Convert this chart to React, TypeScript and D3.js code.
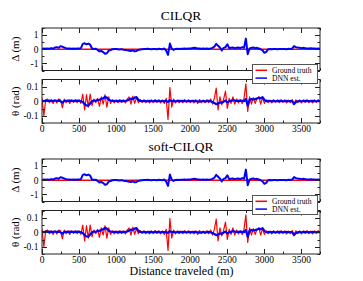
import React from "react";
import * as d3 from "d3";

// sample spacing of the series along the route (m)
const STEP_M = 25;

const titles = ["CILQR", "soft-CILQR"];
const legendLabels = ["Ground truth", "DNN est."];
const xTickLabels = [0, 500, 1000, 1500, 2000, 2500, 3000, 3500];
const deltaTickLabels = [-1, 0, 1];
const thetaTickLabels = [-0.1, 0, 0.1];

// Ground truth lateral offset Δ (m): flat along the route
const gtDeltaX = [0, 3750];
const gtDeltaY = [0, 0];

// DNN estimated Δ (m), every 25 m
const dnnDelta = [
  0.02, 0.05, 0.03, 0.06, 0.04, 0.08, 0.05, 0.12, 0.15, 0.1,
  0.22, 0.18, 0.12, 0.08, 0.06, 0.05, 0.03, 0.05, 0.04, 0.06,
  0.05, 0.08, 0.38, 0.42, 0.35, 0.4, 0.32, 0.05, 0.02, 0.04,
  -0.05, -0.15, -0.12, -0.2, -0.32, -0.28, -0.1, -0.05, 0.0, 0.02,
  0.02, 0.0, -0.02, 0.01, -0.03, -0.05, -0.08, -0.1, -0.12, -0.08,
  -0.15, -0.12, -0.05, -0.02, 0.0, 0.02, 0.01, 0.03, 0.02, 0.0,
  0.01, 0.02, 0.0, 0.03, 0.02, 0.0, 0.05, -0.1, -0.4, 0.4,
  0.05, -0.05, 0.02, 0.03, 0.02, 0.04, 0.03, 0.05, 0.04, 0.06,
  0.05, 0.08, 0.1, 0.09, 0.06, 0.05, 0.04, 0.05, 0.03, 0.05,
  0.04, 0.06, 0.1, 0.18, 0.38, 0.25, 0.12, -0.08, 0.1, 0.15,
  0.35, 0.08, 0.1, 0.12, 0.08, 0.1, 0.12, 0.08, 0.15, 0.1,
  0.75, -0.35, 0.05, 0.1, 0.12, 0.08, 0.1, 0.05, 0.0, -0.08,
  -0.25, -0.18, 0.0, 0.02, 0.0, 0.01, 0.02, 0.0, 0.01, 0.02,
  0.01, 0.02, 0.0, 0.03, 0.02, 0.05, 0.22, 0.15, 0.12, 0.1,
  0.08, 0.1, 0.08, 0.06, 0.05, 0.07, 0.05, 0.06, 0.04, 0.05,
  0.03,
];

// Ground truth heading error θ (rad), every 25 m
const gtTheta = [
  0.025, -0.1, 0.01, 0.015, -0.01, 0.012, -0.015, 0.01, -0.012, 0.015,
  0.01, -0.045, 0.015, -0.01, 0.012, -0.015, 0.01, -0.008, 0.012, -0.01,
  0.01, -0.015, 0.05, -0.06, 0.045, -0.04, 0.05, -0.03, 0.015, -0.01,
  0.02, -0.035, 0.03, -0.02, 0.045, -0.04, 0.03, -0.015, 0.01, -0.012,
  0.01, -0.01, 0.012, -0.008, 0.01, -0.012, 0.015, 0.03, -0.02, 0.035,
  -0.015, 0.025, -0.01, 0.012, -0.008, 0.01, -0.01, 0.008, -0.012, 0.01,
  -0.01, 0.012, -0.008, 0.01, -0.012, 0.008, -0.015, 0.02, -0.125, 0.095,
  -0.04, 0.015, -0.012, 0.01, -0.01, 0.008, -0.01, 0.012, -0.008, 0.01,
  -0.01, 0.008, -0.012, 0.01, -0.015, 0.012, -0.01, 0.008, -0.01, 0.012,
  -0.01, 0.015, -0.02, 0.02, 0.09, -0.06, 0.03, -0.025, 0.015, 0.07,
  -0.05, 0.02, -0.015, 0.03, -0.02, 0.015, -0.012, 0.01, -0.015, 0.02,
  0.12, -0.07, 0.03, -0.02, 0.025, -0.015, 0.02, 0.03, -0.02, 0.025,
  -0.015, 0.01, -0.01, 0.008, -0.012, 0.01, -0.008, 0.01, -0.01, 0.012,
  -0.008, 0.01, -0.012, 0.008, -0.01, 0.012, -0.015, 0.01, -0.01, 0.008,
  -0.012, 0.01, -0.008, 0.012, -0.01, 0.008, -0.012, 0.01, -0.008, 0.01,
  -0.005,
];

// DNN estimated θ (rad), every 25 m
const dnnTheta = [
  0.005, 0.0, 0.005, 0.002, 0.004, 0.0, 0.003, 0.005, 0.002, 0.004,
  0.0, -0.01, 0.002, 0.003, 0.0, 0.004, 0.002, 0.003, 0.001, 0.004,
  0.002, 0.0, -0.005, -0.02, -0.028, -0.03, -0.015, 0.0, 0.005, 0.003,
  0.008, 0.01, 0.015, 0.02, 0.03, 0.025, 0.01, 0.005, 0.003, 0.002,
  0.0, 0.002, 0.0, 0.003, 0.001, 0.002, 0.005, 0.012, 0.018, 0.015,
  0.025, 0.028, 0.01, 0.002, 0.0, 0.002, 0.001, 0.0, 0.002, 0.001,
  0.0, 0.002, 0.001, 0.003, 0.0, 0.002, 0.0, 0.003, -0.005, 0.008,
  0.0, 0.002, 0.0, 0.001, 0.003, 0.0, 0.002, 0.001, 0.0, 0.002,
  0.001, 0.0, 0.002, 0.001, 0.0, -0.002, 0.0, 0.001, -0.001, 0.0,
  0.002, 0.0, -0.005, -0.012, -0.02, -0.015, -0.008, -0.01, -0.003, 0.005,
  -0.008, 0.0, 0.002, 0.008, 0.005, 0.003, 0.002, 0.004, 0.002, 0.0,
  0.015, -0.03, 0.01, 0.015, 0.012, 0.015, 0.018, 0.025, 0.02, 0.028,
  0.01, 0.0, 0.002, 0.0, 0.001, 0.002, 0.0, 0.001, 0.002, 0.0,
  0.001, 0.0, 0.002, 0.0, 0.001, 0.0, -0.02, -0.005, 0.0, 0.002,
  0.0, 0.001, 0.002, 0.0, 0.001, 0.0, 0.002, 0.001, 0.0, 0.002,
  0.0,
];

const W = 363;
const H = 281;
const FONT = "'Liberation Serif', 'Times New Roman', serif";
const RED = "#ff0000";
const BLUE = "#0000ff";
const AXIS = "#222";

const x = d3.scaleLinear().domain([0, 3750]).range([42, 320]);
const xMinor = d3.range(0, 3751, 250);

type PanelProps = {
  id: string;
  top: number;
  bottom: number;
  domain: [number, number];
  major: number[];
  minorStep: number;
  fmt: (v: number) => string;
  label: string;
  showX: boolean;
  gt: [number, number][];
  dnn: [number, number][];
  redWidth: number;
  blueWidth: number;
};

function Panel(p: PanelProps) {
  const y = d3.scaleLinear().domain(p.domain).range([p.bottom, p.top]);
  const line = d3
    .line<[number, number]>()
    .x((d) => x(d[0]))
    .y((d) => y(d[1]));
  const [x0, x1] = x.range();
  const yMinor = d3.range(p.domain[0], p.domain[1] + 1e-9, p.minorStep);
  const isMajor = (v: number) => p.major.some((m) => Math.abs(m - v) < 1e-9);
  return (
    <g>
      <defs>
        <clipPath id={p.id}>
          <rect x={x0} y={p.top} width={x1 - x0} height={p.bottom - p.top} />
        </clipPath>
      </defs>
      <rect x={x0} y={p.top} width={x1 - x0} height={p.bottom - p.top} fill="white" />
      <g clipPath={`url(#${p.id})`}>
        <path d={line(p.gt) || ""} fill="none" stroke={RED} strokeWidth={p.redWidth} strokeLinejoin="round" />
        <path d={line(p.dnn) || ""} fill="none" stroke={BLUE} strokeWidth={p.blueWidth} strokeLinejoin="round" />
      </g>
      {xMinor.map((v) => {
        const len = v % 500 === 0 ? 5 : 2.5;
        const px = Math.round(x(v)) + 0.5;
        return (
          <g key={"xt" + v}>
            <line x1={px} x2={px} y1={p.bottom} y2={p.bottom - len} stroke={AXIS} />
            <line x1={px} x2={px} y1={p.top} y2={p.top + len} stroke={AXIS} />
          </g>
        );
      })}
      {yMinor.map((v) => {
        const len = isMajor(v) ? 5 : 2.5;
        const py = Math.round(y(v)) + 0.5;
        return (
          <g key={"yt" + v}>
            <line x1={x0} x2={x0 + len} y1={py} y2={py} stroke={AXIS} />
            <line x1={x1} x2={x1 - len} y1={py} y2={py} stroke={AXIS} />
          </g>
        );
      })}
      <rect x={x0} y={p.top} width={x1 - x0} height={p.bottom - p.top} fill="none" stroke={AXIS} strokeWidth={1} />
      {p.major.map((v) => (
        <text key={"yl" + v} x={38.5} y={y(v) + 3.3} textAnchor="end" fontSize={9.5} fontFamily={FONT} fill="#000">
          {p.fmt(v)}
        </text>
      ))}
      {p.showX &&
        xTickLabels.map((v) => (
          <text key={"xl" + v} x={x(v)} y={p.bottom + 9} textAnchor="middle" fontSize={9.5} fontFamily={FONT} fill="#000">
            {v}
          </text>
        ))}
      <text
        transform={`translate(18.5, ${(p.top + p.bottom) / 2}) rotate(-90)`}
        textAnchor="middle"
        fontSize={11}
        fontFamily={FONT}
        fill="#000"
      >
        {p.label}
      </text>
    </g>
  );
}

function Figure({ idx, dy }: { idx: number; dy: number }) {
  const dist = (i: number) => i * STEP_M;
  const gtD: [number, number][] = gtDeltaX.map((v, i) => [v, gtDeltaY[i]]);
  const dnnD: [number, number][] = dnnDelta.map((v, i) => [dist(i), v]);
  const gtT: [number, number][] = gtTheta.map((v, i) => [dist(i), v]);
  const dnnT: [number, number][] = dnnTheta.map((v, i) => [dist(i), v]);
  const lx = 252.5;
  const ly = 64.5 + dy;
  return (
    <g>
      <text x={181} y={20 + dy} textAnchor="middle" fontSize={13.5} fontFamily={FONT} fill="#000">
        {titles[idx]}
      </text>
      <Panel
        id={"c" + idx + "a"}
        top={28 + dy}
        bottom={70.5 + dy}
        domain={[-1.5, 1.5]}
        major={deltaTickLabels}
        minorStep={0.5}
        fmt={(v) => String(v)}
        label="Δ (m)"
        showX={false}
        gt={gtD}
        dnn={dnnD}
        redWidth={1.5}
        blueWidth={2}
      />
      <Panel
        id={"c" + idx + "b"}
        top={79.5 + dy}
        bottom={123 + dy}
        domain={[-0.15, 0.15]}
        major={thetaTickLabels}
        minorStep={0.05}
        fmt={(v) => (v === 0 ? "0" : String(v))}
        label="θ (rad)"
        showX={true}
        gt={gtT}
        dnn={dnnT}
        redWidth={1.2}
        blueWidth={2.2}
      />
      <rect x={lx} y={ly} width={65} height={19} fill="white" stroke="#555" strokeWidth={1} />
      <line x1={lx + 3} x2={lx + 14.5} y1={ly + 5.8} y2={ly + 5.8} stroke={RED} strokeWidth={1.5} />
      <line x1={lx + 3} x2={lx + 14.5} y1={ly + 13.6} y2={ly + 13.6} stroke={BLUE} strokeWidth={1.5} />
      <text x={lx + 19.5} y={ly + 8.3} fontSize={7.6} fontFamily={FONT} fill="#000">
        {legendLabels[0]}
      </text>
      <text x={lx + 19.5} y={ly + 16.8} fontSize={7.6} fontFamily={FONT} fill="#000">
        {legendLabels[1]}
      </text>
    </g>
  );
}

export default function App() {
  return (
    <svg
      width={W}
      height={H}
      viewBox={`0 0 ${W} ${H}`}
      style={{ position: "absolute", left: 0, top: 0, background: "white" }}
    >
      <rect width={W} height={H} fill="white" />
      <Figure idx={0} dy={0} />
      <Figure idx={1} dy={131} />
      <text x={181.5} y={274.5} textAnchor="middle" fontSize={12} fontFamily={FONT} fill="#000">
        Distance traveled (m)
      </text>
    </svg>
  );
}
